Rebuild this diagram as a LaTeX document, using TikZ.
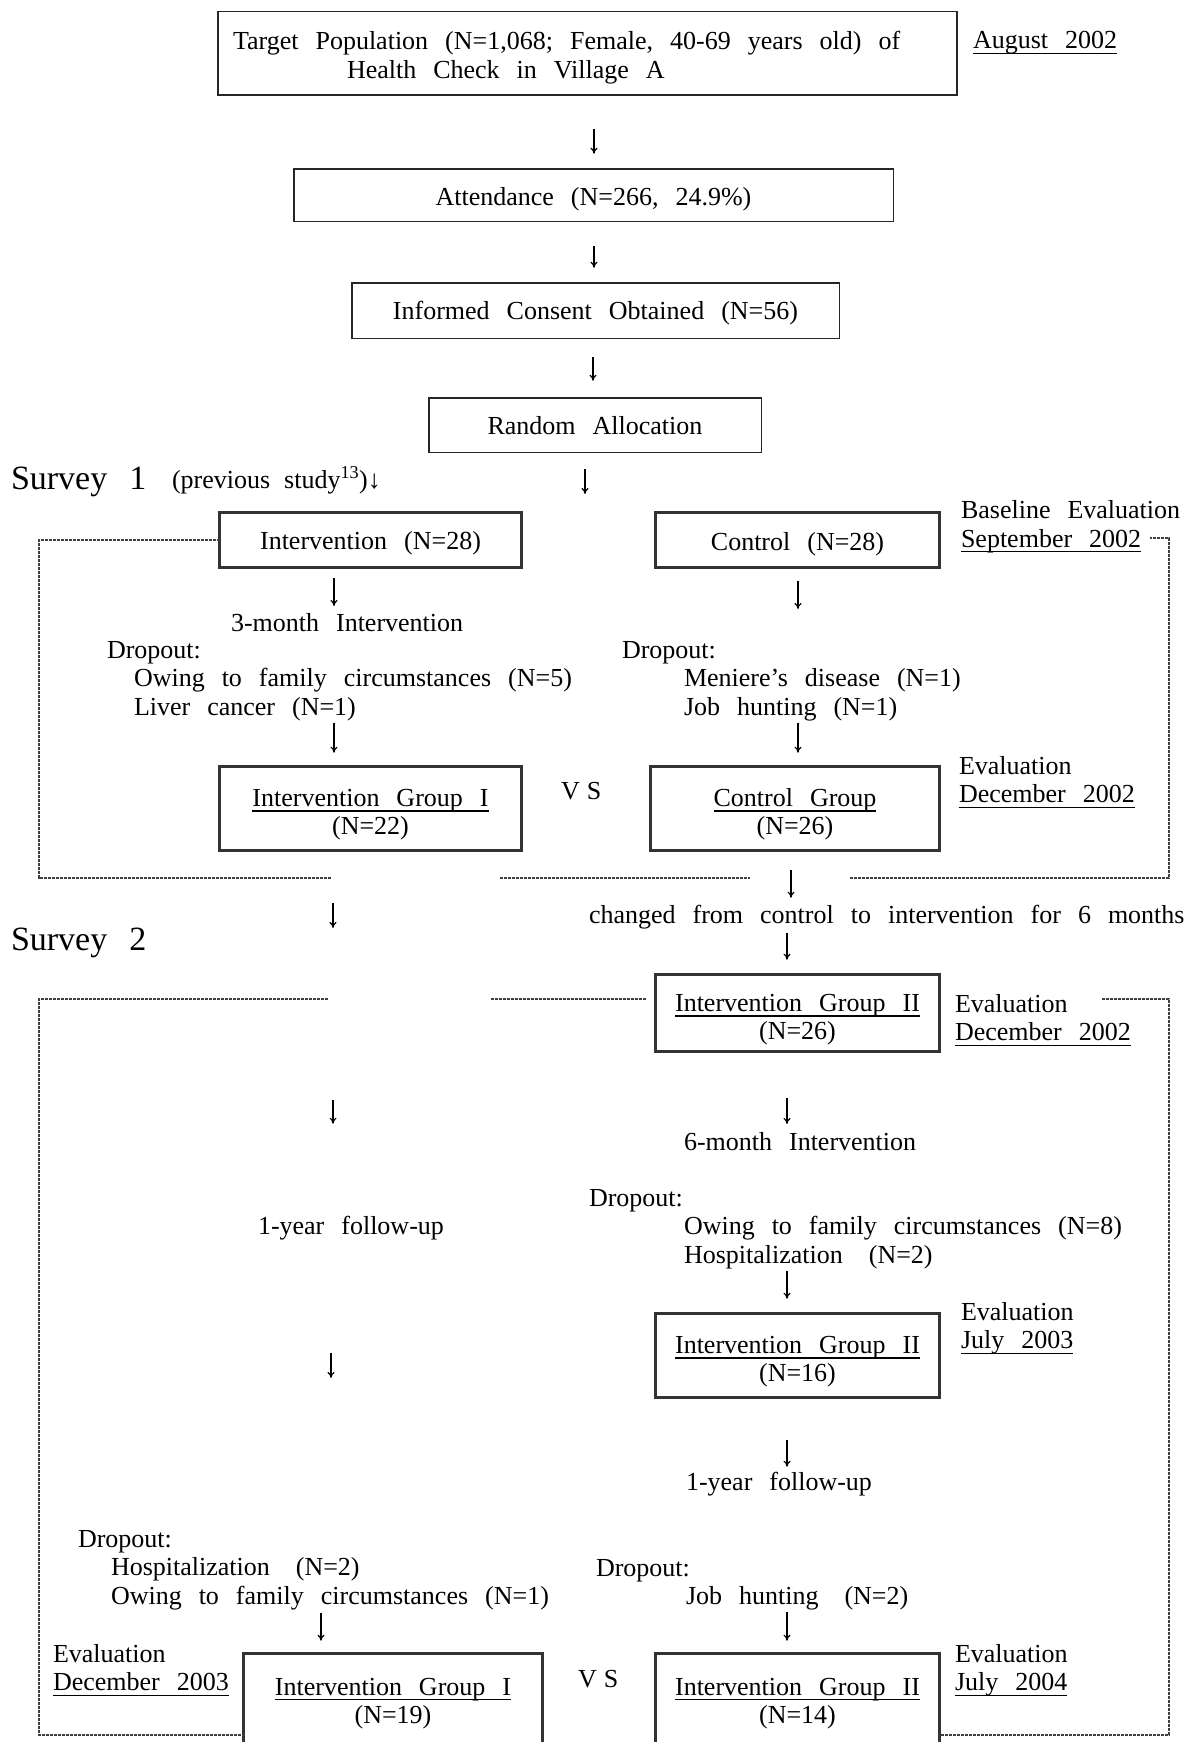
\documentclass[tikz,border=0pt]{standalone}
\usepackage{fontspec}
\setmainfont{Liberation Serif}
\usetikzlibrary{arrows.meta,calc}
\newcommand{\ff}{\fontsize{26}{28.5}\selectfont\spaceskip=17pt plus 2pt minus 1pt\relax}
\newcommand{\fbig}{\fontsize{34}{40}\selectfont\spaceskip=22pt plus 2pt\relax}
\newcommand{\fsm}{\fontsize{26}{30}\selectfont\spaceskip=14pt plus 2pt\relax}
\newcommand{\ul}[1]{\leavevmode\vtop{\hbox{\raisebox{0pt}[\height][0pt]{#1}}\kern4pt\hrule height 1.4pt}}
\newcommand{\sr}[1]{\rule{0pt}{#1pt}}
\tikzset{
  every node/.style={inner sep=0pt, outer sep=0pt, font=\ff},
  thinbox/.style={draw=black!85, line width=1.5pt, align=center},
  thickbox/.style={draw=black!80, line width=3.4pt, align=center},
  lbl/.style={anchor=base west},
  blk/.style={anchor=north west, align=left},
  arr/.style={-{To[length=6pt,width=7pt]}, line width=1.1pt},
  frame/.style={line width=1.1pt, black!75, dash pattern=on 3pt off 1pt},
}
\begin{document}
\begin{tikzpicture}[x=1pt,y=-1pt]
\fill[white] (0,0) rectangle (1201,1742);
\useasboundingbox (0,0) rectangle (1201,1742);
% column coordinates
\coordinate (xA) at (594,0);
\coordinate (xB) at (593,0);
\coordinate (xL) at (334,0);
\coordinate (xL2) at (333,0);
\coordinate (xL3) at (331,0);
\coordinate (xL4) at (321,0);
\coordinate (xR) at (798,0);
\coordinate (xR1) at (791,0);
\coordinate (xR2) at (787,0);
% top part
\node[thinbox, align=left, text width=709pt, inner xsep=15pt, minimum height=83.5pt] (top) at (587.5,53.5)
  {\ff\sr{27}Target Population (N=1,068; Female, 40-69 years old) of\\\hspace*{114pt}Health Check in Village A};
\node[lbl] (aug) at (973,49) {\ul{August 2002}};
\node[thinbox, minimum width=599.5pt, minimum height=52.5pt] (att) at (593.5,195) {\sr{26.5}Attendance (N=266, 24.9\%)};
\node[thinbox, minimum width=487.5pt, minimum height=55.5pt] (ic) at (595.5,310.5) {\sr{24.5}Informed Consent Obtained (N=56)};
\node[thinbox, minimum width=332.5pt, minimum height=54.5pt] (rand) at (595,425) {\sr{20}Random Allocation};
\coordinate (a4) at (585,494);
% survey 1
\node[lbl, font=\fbig] (sv1) at (11,489) {Survey 1};
\node[lbl, font=\fsm] (prev) at (172,488) {(previous study\textsuperscript{13})↓};
\node[thickbox, minimum width=301.6pt, minimum height=54.6pt] (int28) at (370.5,540) {\sr{24.5}Intervention (N=28)};
\node[thickbox, minimum width=283.6pt, minimum height=54.6pt] (ctl28) at (797.5,540) {\sr{26}Control (N=28)};
\node[blk] (base) at (961,500.5) {Baseline Evaluation\\\ul{September 2002}};
\node[lbl] (mo3) at (231,631) {3-month Intervention};
\node[blk] (dropL1) at (107,641) {Dropout:\\\hspace*{27pt}Owing to family circumstances (N=5)\\\hspace*{27pt}Liver cancer (N=1)};
\node[blk] (dropR1) at (622,641) {Dropout:\\\hspace*{62pt}Meniere's disease (N=1)\\\hspace*{62pt}Job hunting (N=1)};
\node[thickbox, minimum width=301.6pt, minimum height=83.6pt] (ig1a) at (370.5,808.5) {\sr{30}\ul{Intervention Group I}\\(N=22)};
\node[thickbox, minimum width=288.6pt, minimum height=83.6pt] (ctlg) at (795,808.5) {\sr{29.5}\ul{Control Group}\\(N=26)};
\node[lbl] (vs1) at (561,799) {V\hspace{7pt}S};
\node[blk] (ev1) at (959,756) {Evaluation\\\ul{December 2002}};
% survey 2
\node[lbl, font=\fbig] (sv2) at (11,950) {Survey 2};
\node[lbl] (chg) at (589,923) {changed from control to intervention for 6 months};
\node[thickbox, minimum width=283.6pt, minimum height=76.6pt] (ig2a) at (797.5,1013) {\sr{31}\ul{Intervention Group II}\\(N=26)};
\node[blk] (ev2) at (955,994) {Evaluation\\\ul{December 2002}};
\node[lbl] (mo6) at (684,1150) {6-month Intervention};
\node[lbl] (fuL) at (258,1234) {1-year follow-up};
\node[blk] (dropR2) at (589,1189) {Dropout:\\\hspace*{95pt}Owing to family circumstances (N=8)\\\hspace*{95pt}Hospitalization\hspace{26pt}(N=2)};
\node[thickbox, minimum width=283.6pt, minimum height=83.6pt] (ig2b) at (797.5,1355.5) {\sr{30}\ul{Intervention Group II}\\(N=16)};
\node[blk] (ev3) at (961,1302) {Evaluation\\\ul{July 2003}};
\node[lbl] (fuR) at (686,1490) {1-year follow-up};
\node[blk] (dropL3) at (78,1530) {Dropout:\\\hspace*{33pt}Hospitalization\hspace{26pt}(N=2)\\\hspace*{33pt}Owing to family circumstances (N=1)};
\node[blk] (dropR3) at (596,1559) {Dropout:\\\hspace*{90pt}Job hunting\hspace{26pt}(N=2)};
\node[thickbox, minimum width=298.6pt, minimum height=92.6pt] (ig1b) at (393,1700) {\sr{24}\ul{Intervention Group I}\\(N=19)};
\node[thickbox, minimum width=283.6pt, minimum height=92.6pt] (ig2c) at (797.5,1700) {\sr{24}\ul{Intervention Group II}\\(N=14)};
\node[blk] (ev4) at (53,1644) {Evaluation\\\ul{December 2003}};
\node[lbl] (vs2) at (578,1687) {V\hspace{7pt}S};
\node[blk] (ev5) at (955,1644) {Evaluation\\\ul{July 2004}};
\coordinate (a9) at (333,928);
\coordinate (a10) at (333,1100);
% arrows
\draw[arr, shorten <=34pt, shorten >=15pt] (top.south -| xA) -- (att.north -| xA);
\draw[arr, shorten <=25pt, shorten >=15pt] (att.south -| xA) -- (ic.north -| xA);
\draw[arr, shorten <=19pt, shorten >=17pt] (ic.south -| xB) -- (rand.north -| xB);
\draw[arr, shorten <=17pt] (rand.south -| a4) -- (a4);
\draw[arr, shorten <=11pt, shorten >=7pt] (int28.south -| xL) -- (mo3.north -| xL);
\draw[arr, shorten <=14pt, shorten >=32pt] (ctl28.south -| xR) -- (dropR1.north -| xR);
\draw[arr, shorten <=2pt, shorten >=14pt] (dropL1.south -| xL) -- (ig1a.north -| xL);
\draw[arr, shorten <=2pt, shorten >=14pt] (dropR1.south -| xR) -- (ctlg.north -| xR);
\draw[arr, shorten <=53pt] (ig1a.south -| xL2) -- (a9);
\draw[arr, shorten >=92pt] (a10) -- (fuL.north -| a10);
\draw[arr, shorten <=113pt, shorten >=152pt] (fuL.south -| xL3) -- (dropL3.north -| xL3);
\draw[arr, shorten <=20pt, shorten >=7pt] (ctlg.south -| xR1) -- (chg.north -| xR1);
\draw[arr, shorten <=4pt, shorten >=15pt] (chg.south -| xR2) -- (ig2a.north -| xR2);
\draw[arr, shorten <=47pt, shorten >=8pt] (ig2a.south -| xR2) -- (mo6.north -| xR2);
\draw[arr, shorten <=2pt, shorten >=15pt] (dropR2.south -| xR2) -- (ig2b.north -| xR2);
\draw[arr, shorten <=43pt, shorten >=5pt] (ig2b.south -| xR2) -- (fuR.north -| xR2);
\draw[arr, shorten <=3pt, shorten >=13pt] (dropL3.south -| xL4) -- (ig1b.north -| xL4);
\draw[arr, shorten <=2pt, shorten >=13pt] (dropR3.south -| xR2) -- (ig2c.north -| xR2);
% survey 1 frame
\draw[frame] (int28.west) -| (39,878) -- (331,878);
\draw[frame] (500,878) -- (750,878);
\draw[frame] (850,878) -- (1169,878) -- (1169,538) -- (1150,538);
% survey 2 frame
\draw[frame] (328,999) -- (39,999) -- (39,1735) -- (ig1b.west |- 0,1735);
\draw[frame] (491,999) -- ([xshift=-10pt,yshift=14pt]ig2a.west);
\draw[frame] (1102,999) -- (1169,999) -- (1169,1735) -- (ig2c.east |- 0,1735);
\end{tikzpicture}
\end{document}
